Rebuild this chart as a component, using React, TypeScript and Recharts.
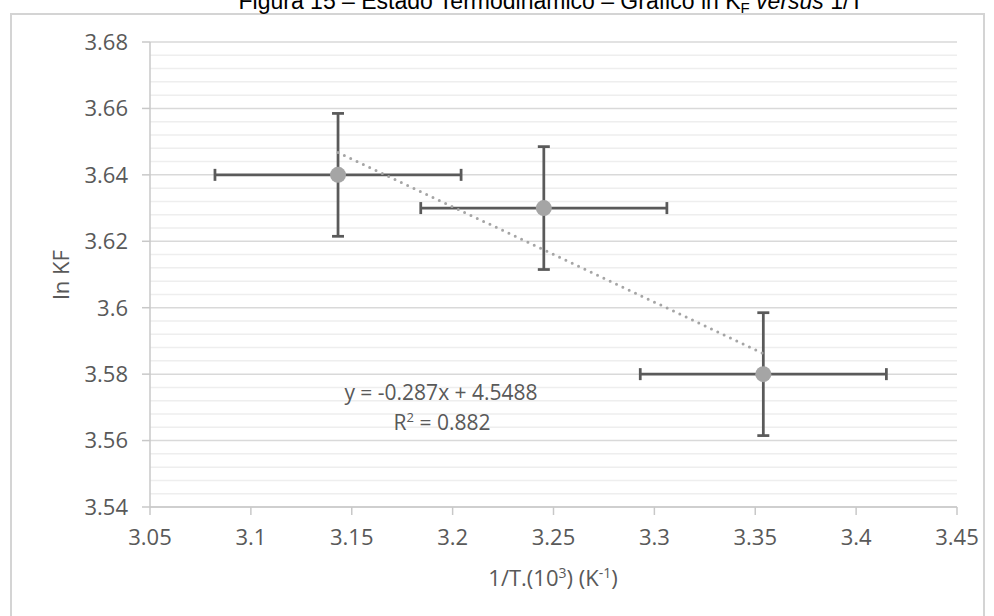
import { ScatterChart, Scatter, XAxis, YAxis, CartesianGrid, ErrorBar, ReferenceLine } from 'recharts'

// 1/T (x10^3, K^-1) for 318.15, 308.15 and 298.15 K
const invT = [3.1432, 3.2452, 3.354]
const lnKF = [3.64, 3.63, 3.58]
const xErr = [0.061, 0.061, 0.061]
const yErr = [0.0185, 0.0185, 0.0185]

// linear trendline endpoints
const trendX = [3.1432, 3.354]
const trendY = [3.6467, 3.5862]

const xTicks = [3.05, 3.1, 3.15, 3.2, 3.25, 3.3, 3.35, 3.4, 3.45]
const yTicks = [3.54, 3.56, 3.58, 3.6, 3.62, 3.64, 3.66, 3.68]
const minorGrid = [
  3.544, 3.548, 3.552, 3.556,
  3.564, 3.568, 3.572, 3.576,
  3.584, 3.588, 3.592, 3.596,
  3.604, 3.608, 3.612, 3.616,
  3.624, 3.628, 3.632, 3.636,
  3.644, 3.648, 3.652, 3.656,
  3.664, 3.668, 3.672, 3.676,
]

const points = invT.map((x, i) => ({ x, y: lnKF[i], ex: xErr[i], ey: yErr[i] }))

const font = '"Open Sans", sans-serif'
const textGray = '#595959'
const tickStyle = { fontSize: 22, fontFamily: font, fill: textGray }
const fmt = (v: number) => String(Number(v.toFixed(2)))

const Dot = (props: any) => <circle cx={props.cx} cy={props.cy} r={8} fill="#a5a5a5" />

export default function App() {
  return (
    <div style={{ position: 'absolute', left: 0, top: 0, width: 994, height: 616, overflow: 'hidden', background: '#fff' }}>
      <div
        style={{
          position: 'absolute',
          left: 10,
          top: 13,
          width: 975,
          height: 640,
          border: '2px solid #d4d4d4',
          boxSizing: 'border-box',
        }}
      />
      <ScatterChart
        width={994}
        height={616}
        margin={{ top: 42, right: 37, bottom: 79, left: 90 }}
        style={{ position: 'absolute', left: 0, top: 0 }}
      >
        <CartesianGrid vertical={false} stroke="#d9d9d9" strokeWidth={1.5} />
        {minorGrid.map((v) => (
          <ReferenceLine key={v} y={v} stroke="#eeeeee" strokeWidth={1.5} />
        ))}
        <XAxis
          type="number"
          dataKey="x"
          domain={[3.05, 3.45]}
          ticks={xTicks}
          interval={0}
          tickFormatter={fmt}
          tickSize={8}
          tickMargin={14}
          height={30}
          tick={tickStyle}
          axisLine={{ stroke: '#c8c8c8', strokeWidth: 1.5 }}
          tickLine={{ stroke: '#c8c8c8', strokeWidth: 1.5 }}
          allowDataOverflow
        />
        <YAxis
          type="number"
          dataKey="y"
          domain={[3.54, 3.68]}
          ticks={yTicks}
          interval={0}
          tickFormatter={fmt}
          tickSize={8}
          tickMargin={14}
          width={60}
          tick={tickStyle}
          axisLine={{ stroke: '#c8c8c8', strokeWidth: 1.5 }}
          tickLine={{ stroke: '#c8c8c8', strokeWidth: 1.5 }}
          allowDataOverflow
        />
        <Scatter data={points} shape={Dot} isAnimationActive={false}>
          <ErrorBar dataKey="ex" direction="x" width={6} stroke="#5a5a5a" strokeWidth={2.75} isAnimationActive={false} />
          <ErrorBar dataKey="ey" direction="y" width={6} stroke="#5a5a5a" strokeWidth={2.75} isAnimationActive={false} />
        </Scatter>
        <ReferenceLine
          segment={[
            { x: trendX[0], y: trendY[0] },
            { x: trendX[1], y: trendY[1] },
          ]}
          stroke="#a5a5a5"
          strokeWidth={3}
          strokeDasharray="0 7"
          strokeLinecap="round"
        />
      </ScatterChart>
      <svg width={994} height={616} style={{ position: 'absolute', left: 0, top: 0, pointerEvents: 'none' }}>
        <text x={551} y={9} textAnchor="middle" fontFamily='"Liberation Sans", Arial, sans-serif' fontSize={23} fill="#000">
          Figura 15 – Estado Termodinâmico – Gráfico ln K
          <tspan fontSize={15} dy={4}>F</tspan>
          <tspan dy={-4}> </tspan>
          <tspan fontStyle="italic">versus</tspan> 1/T
        </text>
        <text
          x={69}
          y={275}
          textAnchor="middle"
          transform="rotate(-90 69 275)"
          fontFamily={font}
          fontSize={22}
          fill={textGray}
        >
          ln KF
        </text>
        <text x={553} y={586} textAnchor="middle" fontFamily={font} fontSize={22} fill={textGray}>
          1/T.(10<tspan fontSize={14} dy={-8}>3</tspan>
          <tspan dy={8}>) (K</tspan>
          <tspan fontSize={14} dy={-8}>-1</tspan>
          <tspan dy={8}>)</tspan>
        </text>
        <text x={441} y={400} textAnchor="middle" fontFamily={font} fontSize={21} fill={textGray}>
          y = -0.287x + 4.5488
        </text>
        <text x={442} y={430} textAnchor="middle" fontFamily={font} fontSize={21} fill={textGray}>
          R<tspan fontSize={13} dy={-8}>2</tspan>
          <tspan dy={8}> = 0.882</tspan>
        </text>
      </svg>
    </div>
  )
}
